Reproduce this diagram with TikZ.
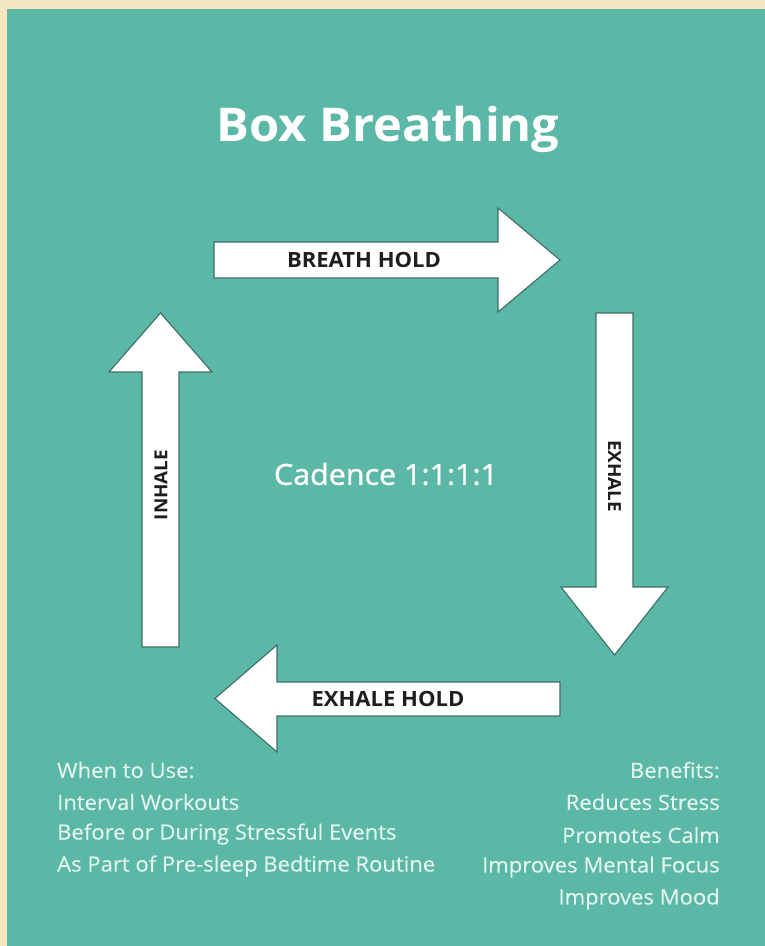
\documentclass[tikz,border=0pt]{standalone}
\usepackage{fontspec}
\setmainfont{Open Sans}[FakeStretch=1.05]
\newfontfamily\semib{Open Sans}[FakeStretch=1.05,FakeBold=1.2]
\newfontfamily\listfont{Open Sans}[FakeStretch=1.05,FakeBold=0.4]
\definecolor{cream}{HTML}{F4E5C3}
\definecolor{teal}{HTML}{5BB8A6}
\definecolor{edge}{HTML}{3C6E65}
\definecolor{mint}{HTML}{E2F4EE}
\definecolor{ink}{HTML}{1E1E1E}
\tikzset{
  arrowshape/.style={fill=white,draw=edge,line width=1.1pt,line join=miter},
  armlabel/.style={text=ink,font=\fontsize{21}{23}\selectfont\bfseries,inner sep=0pt},
  vlabel/.style={text=ink,font=\fontsize{18}{20}\selectfont\bfseries,inner sep=0pt},
  listtext/.style={text=mint,font=\listfont\fontsize{21}{23}\selectfont,inner sep=0pt}
}
\begin{document}
\begin{tikzpicture}[x=1pt,y=-1pt]
\useasboundingbox (0,0) rectangle (765,946);
\fill[cream] (0,0) rectangle (765,946);
\fill[teal] (7,9) rectangle (765,946);
% title
\node[text=white,font=\fontsize{46.5}{50}\selectfont\bfseries,inner sep=0pt] (title) at (388,129) {Box Breathing};
\node[text=white,font=\semib\fontsize{29}{32}\selectfont,inner sep=0pt] (cad) at (386,474) {Cadence 1:1:1:1};
% top arrow
\draw[arrowshape] (214,242) -- (498,242) -- (498,208) -- (560,260) -- (498,312) -- (498,278) -- (214,278) -- cycle;
% right arrow
\draw[arrowshape] (596,313) -- (633,313) -- (633,587) -- (668,587) -- (614.5,655) -- (561,587) -- (596,587) -- cycle;
% bottom arrow
\draw[arrowshape] (560,682) -- (277,682) -- (277,645) -- (215,698.5) -- (277,752) -- (277,716) -- (560,716) -- cycle;
% left arrow
\draw[arrowshape] (179,647) -- (179,372) -- (212,372) -- (160.5,313) -- (109,372) -- (142,372) -- (142,647) -- cycle;
% arrow labels
\node[armlabel] (bh) at (364,260) {BREATH HOLD};
\node[armlabel] (eh) at (388,699) {EXHALE HOLD};
\node[vlabel,rotate=90] (inh) at (161,485) {INHALE};
\node[vlabel,rotate=-90] (exh) at (614.5,476) {EXHALE};
% lists
\node[listtext,anchor=west] (w0) at (57,770) {When to Use:};
\node[listtext,anchor=west] (w1) at (57,802) {Interval Workouts};
\node[listtext,anchor=west] (w2) at (57,834) {Before or During Stressful Events};
\node[listtext,anchor=west] (w3) at (57,866) {As Part of Pre-sleep Bedtime Routine};
\node[listtext,anchor=east] (b0) at (720,770) {Benefits:};
\node[listtext,anchor=east] (b1) at (720,802) {Reduces Stress};
\node[listtext,anchor=east] (b2) at (720,835) {Promotes Calm};
\node[listtext,anchor=east] (b3) at (720,867) {Improves Mental Focus};
\node[listtext,anchor=east] (b4) at (720,899) {Improves Mood};
\end{tikzpicture}
\end{document}
